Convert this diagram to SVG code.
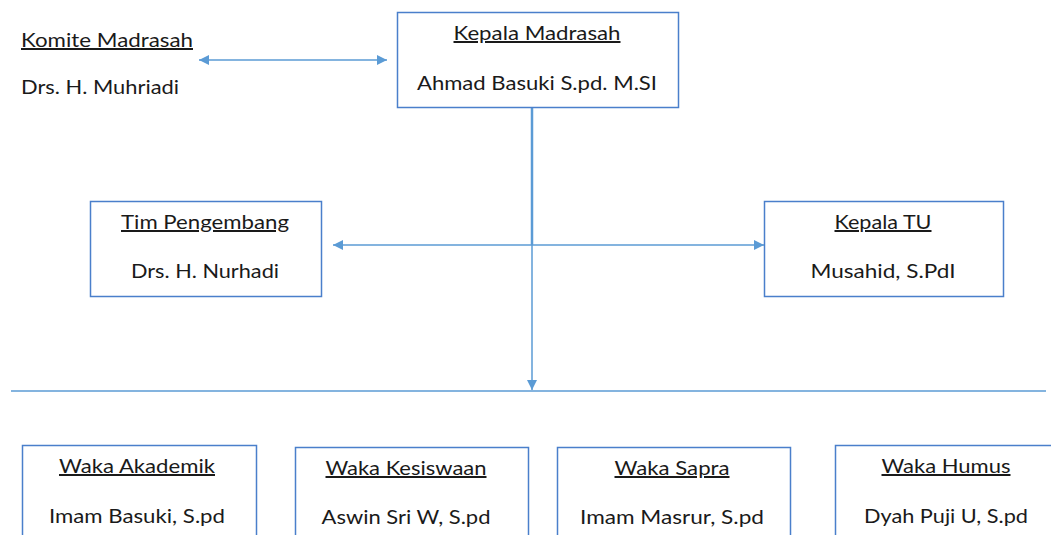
<svg xmlns="http://www.w3.org/2000/svg" width="1051" height="535" viewBox="0 0 1051 535">
<style>
.box{fill:#fff;stroke:#4a7fcb;stroke-width:1.5}
.t{font-family:Lato,"Open Sans","Liberation Sans",sans-serif;font-size:20px;fill:#1a1a1a;text-anchor:middle}
.u{text-decoration:underline}
.l{text-anchor:start}
.c{fill:none;stroke:#5b9bd5;stroke-width:1.5}
</style>
<defs>
<marker id="ah" viewBox="0 0 10 10" refX="10" refY="5" markerWidth="10" markerHeight="10" markerUnits="userSpaceOnUse" orient="auto-start-reverse">
<path d="M0,0 L10,5 L0,10 z" fill="#5b9bd5"/>
</marker>
</defs>
<rect width="1051" height="535" fill="#fff"/>
<g id="connectors">
<line class="c" x1="199" y1="60" x2="387" y2="60" marker-start="url(#ah)" marker-end="url(#ah)"/>
<line class="c" x1="532" y1="108" x2="532" y2="245" style="stroke-width:2.5"/>
<line class="c" x1="532" y1="245" x2="532" y2="390" marker-end="url(#ah)"/>
<line class="c" x1="333" y1="245" x2="764" y2="245" marker-start="url(#ah)" marker-end="url(#ah)"/>
<line class="c" x1="11" y1="391" x2="1046" y2="391"/>
</g>
<g id="komite">
<text class="t u l" x="21" y="47" textLength="172" lengthAdjust="spacingAndGlyphs">Komite Madrasah</text>
<text class="t l" x="21" y="94" textLength="158" lengthAdjust="spacingAndGlyphs">Drs. H. Muhriadi</text>
</g>
<g id="kepala-madrasah">
<rect class="box" x="397.5" y="12.5" width="281" height="95"/>
<text class="t u" x="537" y="40" textLength="167" lengthAdjust="spacingAndGlyphs">Kepala Madrasah</text>
<text class="t" x="537" y="90" textLength="240" lengthAdjust="spacingAndGlyphs">Ahmad Basuki S.pd. M.SI</text>
</g>
<g id="tim-pengembang">
<rect class="box" x="90.5" y="201.5" width="231" height="95"/>
<text class="t u" x="205" y="229" textLength="168" lengthAdjust="spacingAndGlyphs">Tim Pengembang</text>
<text class="t" x="205" y="278" textLength="148" lengthAdjust="spacingAndGlyphs">Drs. H. Nurhadi</text>
</g>
<g id="kepala-tu">
<rect class="box" x="764.5" y="201.5" width="239" height="95"/>
<text class="t u" x="883" y="229" textLength="97" lengthAdjust="spacingAndGlyphs">Kepala TU</text>
<text class="t" x="883" y="278" textLength="145" lengthAdjust="spacingAndGlyphs">Musahid, S.PdI</text>
</g>
<g id="waka-akademik">
<rect class="box" x="22.5" y="445.5" width="234" height="100"/>
<text class="t u" x="137" y="473" textLength="156" lengthAdjust="spacingAndGlyphs">Waka Akademik</text>
<text class="t" x="137" y="523" textLength="176" lengthAdjust="spacingAndGlyphs">Imam Basuki, S.pd</text>
</g>
<g id="waka-kesiswaan">
<rect class="box" x="295.5" y="447.5" width="233" height="100"/>
<text class="t u" x="406" y="475" textLength="161" lengthAdjust="spacingAndGlyphs">Waka Kesiswaan</text>
<text class="t" x="406" y="524" textLength="169" lengthAdjust="spacingAndGlyphs">Aswin Sri W, S.pd</text>
</g>
<g id="waka-sapra">
<rect class="box" x="557.5" y="447.5" width="233" height="100"/>
<text class="t u" x="672" y="475" textLength="115" lengthAdjust="spacingAndGlyphs">Waka Sapra</text>
<text class="t" x="672" y="524" textLength="184" lengthAdjust="spacingAndGlyphs">Imam Masrur, S.pd</text>
</g>
<g id="waka-humus">
<rect class="box" x="835.5" y="445.5" width="230" height="100"/>
<text class="t u" x="946" y="473" textLength="129" lengthAdjust="spacingAndGlyphs">Waka Humus</text>
<text class="t" x="946" y="523" textLength="164" lengthAdjust="spacingAndGlyphs">Dyah Puji U, S.pd</text>
</g>
</svg>
